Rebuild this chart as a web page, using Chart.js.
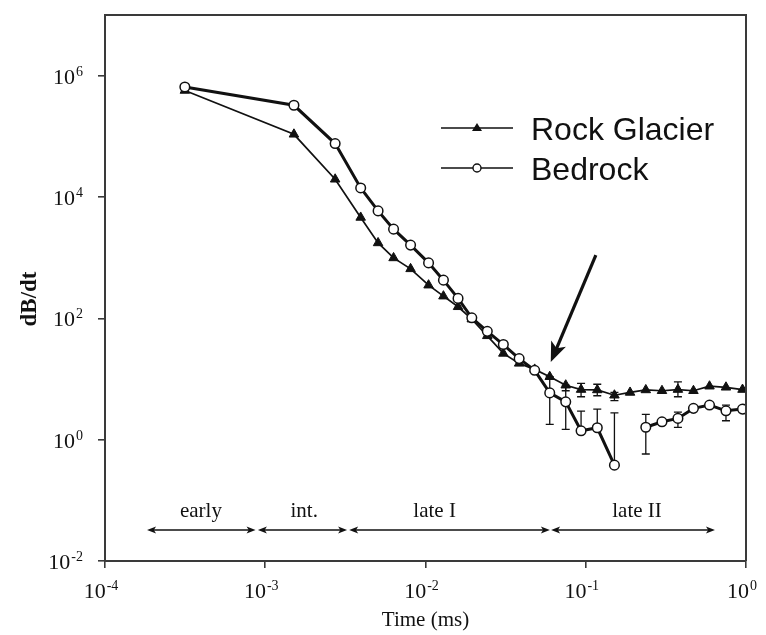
<!DOCTYPE html>
<html>
<head>
<meta charset="utf-8">
<script src="https://cdn.jsdelivr.net/npm/chart.js@4"></script>
<style>
  body { margin: 0; background: #fff; }
  canvas { display: block; }
</style>
</head>
<body>
<canvas id="chart" width="766" height="635"></canvas>
<script>
// gate times (ms)
const times = [3.15e-4, 1.51e-3, 2.73e-3, 3.94e-3, 5.06e-3, 6.32e-3, 8.07e-3, 1.045e-2, 1.294e-2, 1.596e-2,
    1.945e-2, 2.43e-2, 3.06e-2, 3.84e-2, 4.80e-2, 5.96e-2, 7.50e-2, 9.35e-2, 0.118, 0.151,
    0.189, 0.237, 0.299, 0.376, 0.470, 0.592, 0.750, 0.951];

const rockGlacier = [5.7e5, 1.08e5, 1.96e4, 4.6e3, 1.75e3, 990, 654, 352, 232, 155,
    97, 51.5, 26.4, 18.1, 14.4, 10.9, 7.9, 6.7, 6.6, 5.4,
    6.0, 6.6, 6.4, 6.7, 6.4, 7.6, 7.3, 6.7];

const bedrock = [6.5e5, 3.25e5, 7.6e4, 1.41e4, 5.9e3, 2.95e3, 1.61e3, 820, 426, 213,
    102, 61, 37, 21.7, 13.9, 5.9, 4.2, 1.4, 1.57, 0.38,
    null, 1.6, 1.97, 2.24, 3.28, 3.72, 2.99, 3.19];

// error bar ends, by gate index
const rockLow = { 16: 6.4, 17: 5.1, 18: 5.3, 19: 4.4, 23: 5.1 };
const rockHigh = { 16: 7.9, 17: 8.5, 18: 8.2, 19: 6.0, 23: 9.0 };
const bedrockLow = { 15: 1.79, 16: 1.48, 17: 1.4, 18: 1.57, 19: 0.38, 21: 0.58, 23: 1.6, 26: 2.05 };
const bedrockHigh = { 15: 10.9, 16: 7.9, 17: 2.96, 18: 3.19, 19: 2.77, 21: 2.61, 23: 2.85, 26: 3.72 };

const xTicks = [1e-4, 1e-3, 1e-2, 1e-1, 1];
const yTicks = [1e-2, 1, 1e2, 1e4, 1e6];

// time windows along the bottom
const phases = ["early", "int.", "late I", "late II"];
const phaseStart = [1.83e-4, 9.0e-4, 3.34e-3, 0.0608];
const phaseEnd = [8.7e-4, 3.24e-3, 0.0597, 0.64];
const phaseLabelAt = [3.97e-4, 1.75e-3, 0.0114, 0.209];

// arrow pointing at the split
const arrowFrom = { x: 0.1156, y: 1100 };
const arrowTo = { x: 0.0605, y: 19 };

const SERIF = "'Liberation Serif', 'Times New Roman', serif";
const SANS = "'Liberation Sans', Arial, sans-serif";
const INK = "#111";
const AXIS = "#3a3a3a";

function arrowHead(ctx, x, y, angle, len, half) {
    ctx.save();
    ctx.translate(x, y);
    ctx.rotate(angle);
    ctx.beginPath();
    ctx.moveTo(0, 0);
    ctx.lineTo(-len, -half);
    ctx.lineTo(-len * 0.75, 0);
    ctx.lineTo(-len, half);
    ctx.closePath();
    ctx.fill();
    ctx.restore();
}

function powerLabel(ctx, exp, x, y, align) {
    ctx.font = "22px " + SERIF;
    const base = "10";
    const bw = ctx.measureText(base).width;
    ctx.font = "14px " + SERIF;
    const sup = String(exp);
    const sw = ctx.measureText(sup).width;
    const total = bw + sw + 1;
    let left = x;
    if (align === "right") left = x - total;
    if (align === "center") left = x - total / 2;
    ctx.textAlign = "left";
    ctx.textBaseline = "alphabetic";
    ctx.font = "22px " + SERIF;
    ctx.fillText(base, left, y);
    ctx.font = "14px " + SERIF;
    ctx.fillText(sup, left + bw + 1, y - 8);
}

function drawErrors(ctx, xs, ys, lows, highs, values) {
    const cap = 4;
    ctx.strokeStyle = INK;
    ctx.lineWidth = 1.3;
    Object.keys(lows).forEach(k => {
        const i = +k;
        const px = xs.getPixelForValue(times[i]);
        const lo = ys.getPixelForValue(lows[i]);
        const hi = ys.getPixelForValue(highs[i]);
        ctx.beginPath();
        ctx.moveTo(px, lo);
        ctx.lineTo(px, hi);
        if (lows[i] !== values[i]) { ctx.moveTo(px - cap, lo); ctx.lineTo(px + cap, lo); }
        if (highs[i] !== values[i]) { ctx.moveTo(px - cap, hi); ctx.lineTo(px + cap, hi); }
        ctx.stroke();
    });
}

const decorations = {
    id: "decorations",
    beforeDatasetsDraw(chart) {
        const { ctx, scales: { x, y } } = chart;
        ctx.save();
        drawErrors(ctx, x, y, rockLow, rockHigh, rockGlacier);
        drawErrors(ctx, x, y, bedrockLow, bedrockHigh, bedrock);
        ctx.restore();
    },
    afterDraw(chart) {
        const { ctx, chartArea: a, scales: { x, y } } = chart;
        ctx.save();

        // top and right edges of the frame
        ctx.strokeStyle = AXIS;
        ctx.lineWidth = 2;
        ctx.beginPath();
        ctx.moveTo(a.left, a.top);
        ctx.lineTo(a.right, a.top);
        ctx.lineTo(a.right, a.bottom);
        ctx.stroke();

        // tick labels
        ctx.fillStyle = INK;
        yTicks.forEach(v => powerLabel(ctx, Math.round(Math.log10(v)), 83, y.getPixelForValue(v) + 8, "right"));
        xTicks.forEach(v => powerLabel(ctx, Math.round(Math.log10(v)), x.getPixelForValue(v) - 4, 598, "center"));

        // axis titles
        ctx.font = "21px " + SERIF;
        ctx.textAlign = "center";
        ctx.textBaseline = "middle";
        ctx.fillText("Time (ms)", (a.left + a.right) / 2, 620);
        ctx.save();
        ctx.translate(30, 299);
        ctx.rotate(-Math.PI / 2);
        ctx.font = "bold 23px " + SERIF;
        ctx.fillText("dB/dt", 0, 0);
        ctx.restore();

        // time windows
        const ay = 530;
        ctx.lineWidth = 1.6;
        ctx.strokeStyle = INK;
        phases.forEach((name, i) => {
            const x0 = x.getPixelForValue(phaseStart[i]);
            const x1 = x.getPixelForValue(phaseEnd[i]);
            ctx.beginPath();
            ctx.moveTo(x0 + 3, ay);
            ctx.lineTo(x1 - 3, ay);
            ctx.stroke();
            arrowHead(ctx, x1, ay, 0, 9, 3.5);
            arrowHead(ctx, x0, ay, Math.PI, 9, 3.5);
            ctx.font = "21px " + SERIF;
            ctx.textAlign = "center";
            ctx.textBaseline = "alphabetic";
            ctx.fillText(name, x.getPixelForValue(phaseLabelAt[i]), 517);
        });

        // arrow
        const fx = x.getPixelForValue(arrowFrom.x), fy = y.getPixelForValue(arrowFrom.y);
        const tx = x.getPixelForValue(arrowTo.x), ty = y.getPixelForValue(arrowTo.y);
        const ang = Math.atan2(ty - fy, tx - fx);
        ctx.lineWidth = 3.2;
        ctx.beginPath();
        ctx.moveTo(fx, fy);
        ctx.lineTo(tx - 12 * Math.cos(ang), ty - 12 * Math.sin(ang));
        ctx.stroke();
        arrowHead(ctx, tx, ty, ang, 20, 8);

        // legend
        const lx0 = 441, lx1 = 513, mx = 477;
        ctx.lineWidth = 1.7;
        ctx.beginPath();
        ctx.moveTo(lx0, 128); ctx.lineTo(lx1, 128);
        ctx.moveTo(lx0, 168); ctx.lineTo(lx1, 168);
        ctx.stroke();
        ctx.beginPath();
        ctx.moveTo(mx, 123); ctx.lineTo(mx + 5, 131); ctx.lineTo(mx - 5, 131);
        ctx.closePath();
        ctx.fill();
        ctx.beginPath();
        ctx.arc(mx, 168, 4, 0, Math.PI * 2);
        ctx.fillStyle = "#fff";
        ctx.fill();
        ctx.lineWidth = 1.4;
        ctx.stroke();
        ctx.fillStyle = INK;
        ctx.font = "32px " + SANS;
        ctx.textAlign = "left";
        ctx.textBaseline = "alphabetic";
        ctx.fillText("Rock Glacier", 531, 140);
        ctx.fillText("Bedrock", 531, 180);

        ctx.restore();
    }
};

const axisGrid = { drawOnChartArea: false, drawTicks: true, tickLength: 7, color: AXIS, lineWidth: 1.6 };

new Chart(document.getElementById("chart"), {
    type: "line",
    data: {
        datasets: [
            {
                label: "Bedrock",
                data: times.map((t, i) => ({ x: t, y: bedrock[i] })),
                borderColor: INK,
                borderWidth: 3,
                pointStyle: "circle",
                pointRadius: 4.8,
                pointBackgroundColor: "#fff",
                pointBorderColor: INK,
                pointBorderWidth: 1.5,
                spanGaps: false,
                tension: 0
            },
            {
                label: "Rock Glacier",
                data: times.map((t, i) => ({ x: t, y: rockGlacier[i] })),
                borderColor: INK,
                borderWidth: 1.7,
                pointStyle: "triangle",
                pointRadius: 5.5,
                pointBackgroundColor: INK,
                pointBorderColor: INK,
                pointBorderWidth: 1,
                tension: 0
            }
        ]
    },
    options: {
        responsive: false,
        animation: false,
        devicePixelRatio: 1,
        layout: { padding: { left: 98, right: 20, top: 15, bottom: 67 } },
        plugins: { legend: { display: false }, tooltip: { enabled: false } },
        scales: {
            x: {
                type: "logarithmic",
                min: 1e-4,
                max: 1,
                afterBuildTicks: s => { s.ticks = xTicks.map(v => ({ value: v })); },
                afterFit: s => { s.height = 7; },
                ticks: { display: false },
                grid: axisGrid,
                border: { color: AXIS, width: 2 }
            },
            y: {
                type: "logarithmic",
                min: 1e-2,
                max: 1e7,
                afterBuildTicks: s => { s.ticks = yTicks.map(v => ({ value: v })); },
                afterFit: s => { s.width = 7; },
                ticks: { display: false },
                grid: axisGrid,
                border: { color: AXIS, width: 2 }
            }
        }
    },
    plugins: [decorations]
});
</script>
</body>
</html>
